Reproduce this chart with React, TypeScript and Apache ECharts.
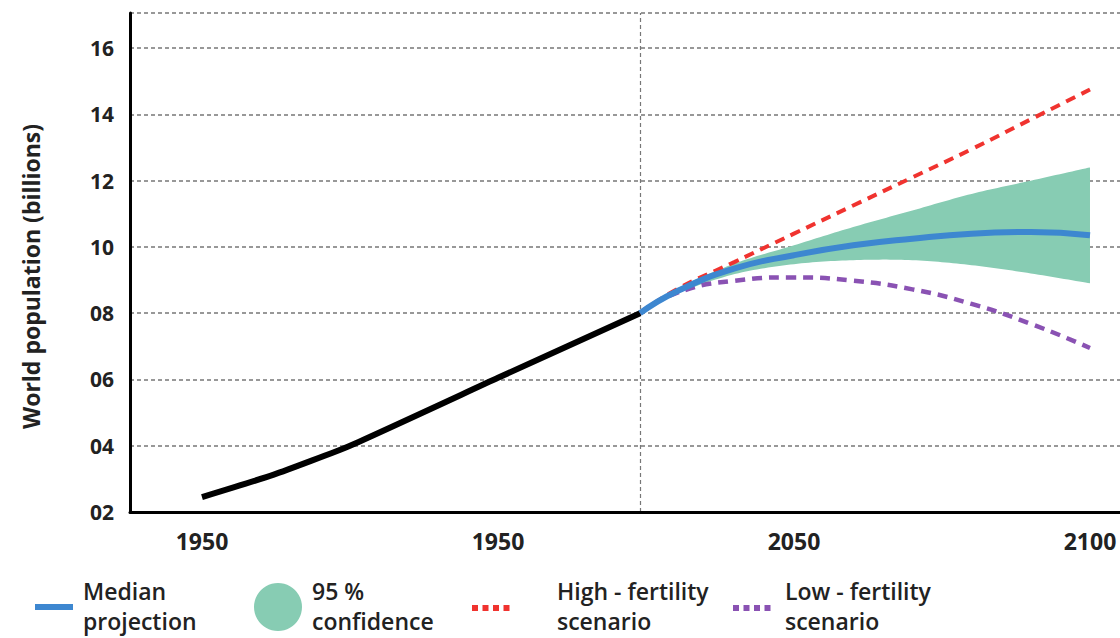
import React, { useEffect, useRef } from "react";
import * as echarts from "echarts";

// Historical population (billions)
const histYears = [1950, 1962, 1975, 2000, 2024];
const histValues = [2.45, 3.12, 4.0, 6.05, 8.0];

// Projection years
const projYears = [2024, 2030, 2040, 2050, 2060, 2070, 2080, 2090, 2100];
const medianValues = [8.0, 8.64, 9.35, 9.75, 10.05, 10.25, 10.4, 10.45, 10.35];
const upperValues = [8.0, 8.72, 9.5, 10.05, 10.6, 11.1, 11.6, 12.0, 12.4];
const lowerValues = [8.0, 8.58, 9.18, 9.48, 9.6, 9.6, 9.45, 9.2, 8.9];
const highValues = [8.0, 8.7, 9.55, 10.4, 11.25, 12.1, 12.95, 13.85, 14.75];
const lowValues = [8.0, 8.6, 8.98, 9.08, 8.98, 8.72, 8.28, 7.68, 6.95];

// X-axis tick positions and the labels shown for them
const xTickYears = [1950, 2000, 2050, 2100];
const xTickLabels = ["1950", "1950", "2050", "2100"];

const currentYear = 2024;

const FONT = "'Open Sans', 'Noto Sans', sans-serif";

// Catmull-Rom sampling of a pixel polyline, for drawing a smooth band edge
function smoothPts(pts: number[][], steps = 16): number[][] {
  const out: number[][] = [];
  for (let i = 0; i < pts.length - 1; i++) {
    const p0 = pts[i - 1] || pts[i];
    const p1 = pts[i];
    const p2 = pts[i + 1];
    const p3 = pts[i + 2] || pts[i + 1];
    const c1 = [p1[0] + (p2[0] - p0[0]) / 6, p1[1] + (p2[1] - p0[1]) / 6];
    const c2 = [p2[0] - (p3[0] - p1[0]) / 6, p2[1] - (p3[1] - p1[1]) / 6];
    for (let s = 0; s < steps; s++) {
      const t = s / steps;
      const mt = 1 - t;
      const a = mt * mt * mt, b = 3 * mt * mt * t, c = 3 * mt * t * t, d = t * t * t;
      out.push([
        a * p1[0] + b * c1[0] + c * c2[0] + d * p2[0],
        a * p1[1] + b * c1[1] + c * c2[1] + d * p2[1],
      ]);
    }
  }
  out.push(pts[pts.length - 1]);
  return out;
}

export default function App() {
  const ref = useRef<HTMLDivElement>(null);

  useEffect(() => {
    document.body.style.margin = "0";
    if (!ref.current) return;
    const chart = echarts.init(ref.current, null, { renderer: "svg" });

    const pairs = (xs: number[], ys: number[]) => xs.map((x, i) => [x, ys[i]]);

    const legendText = (x: number, text: string) => ({
      type: "text",
      x,
      y: 606,
      style: {
        text,
        font: `600 23px ${FONT}`,
        fill: "#222",
        lineHeight: 30,
        verticalAlign: "middle",
        align: "left",
      },
    });

    const bandData = projYears.map((y, i) => [y, lowerValues[i], upperValues[i]]);

    const option: any = {
      animation: false,
      backgroundColor: "#fff",
      grid: { left: 130, right: 0, top: 13, bottom: 126, containLabel: false },
      xAxis: {
        type: "value",
        min: 1937.84,
        max: 2105.07,
        axisLine: { show: true, lineStyle: { color: "#000", width: 3 } },
        axisTick: { show: false },
        splitLine: { show: false },
        axisLabel: {
          customValues: xTickYears,
          formatter: (v: number) => {
            const i = xTickYears.indexOf(Math.round(v));
            return i >= 0 ? xTickLabels[i] : "";
          },
          color: "#222",
          fontFamily: FONT,
          fontWeight: "bold",
          fontSize: 23,
          margin: 17,
        },
      },
      yAxis: {
        type: "value",
        min: 2,
        max: 17.06,
        interval: 2,
        name: "World population (billions)",
        nameLocation: "middle",
        nameGap: 88,
        nameTextStyle: {
          color: "#222",
          fontFamily: FONT,
          fontWeight: "bold",
          fontSize: 23,
          padding: [0, 28, 0, 0],
        },
        axisLine: { show: true, lineStyle: { color: "#000", width: 3 } },
        axisTick: { show: false },
        splitLine: {
          show: true,
          lineStyle: { color: "#777", width: 1.5, type: [4, 3] },
        },
        axisLabel: {
          showMaxLabel: false,
          formatter: (v: number) => (v < 10 ? "0" + v : String(v)),
          color: "#222",
          fontFamily: FONT,
          fontWeight: "bold",
          fontSize: 21,
          margin: 16,
        },
      },
      series: [
        {
          name: "95 % confidence",
          type: "custom",
          data: bandData,
          z: 1,
          renderItem: (params: any, api: any) => {
            if (params.dataIndex !== 0) return null;
            const up = bandData.map((d) => api.coord([d[0], d[2]]));
            const lo = bandData.map((d) => api.coord([d[0], d[1]]));
            const upS = smoothPts(up);
            const loS = smoothPts(lo).reverse();
            return {
              type: "polygon",
              shape: { points: upS.concat(loS) },
              style: { fill: "#87ccb3" },
            };
          },
        },
        {
          name: "High - fertility scenario",
          type: "line",
          data: pairs(projYears, highValues),
          smooth: true,
          symbol: "none",
          lineStyle: { color: "#f0332f", width: 4, type: [10, 7] },
          z: 3,
        },
        {
          name: "Low - fertility scenario",
          type: "line",
          data: pairs(projYears, lowValues),
          smooth: true,
          symbol: "none",
          lineStyle: { color: "#8a52b3", width: 4.5, type: [10, 7] },
          z: 3,
        },
        {
          name: "History",
          type: "line",
          data: pairs(histYears, histValues),
          smooth: 0.15,
          symbol: "none",
          lineStyle: { color: "#000", width: 6, cap: "butt" },
          z: 4,
          markLine: {
            silent: true,
            symbol: "none",
            label: { show: false },
            lineStyle: { color: "#777", width: 1.2, type: [4, 3] },
            data: [{ xAxis: currentYear }],
            z: 0,
          },
        },
        {
          name: "Median projection",
          type: "line",
          data: pairs(projYears, medianValues),
          smooth: true,
          symbol: "none",
          lineStyle: { color: "#3d87d0", width: 6 },
          z: 5,
        },
      ],
      graphic: [
        {
          type: "line",
          shape: { x1: 35, y1: 607, x2: 73, y2: 607 },
          style: { stroke: "#3d87d0", lineWidth: 6 },
        },
        legendText(83, "Median\nprojection"),
        {
          type: "circle",
          shape: { cx: 278, cy: 607, r: 24 },
          style: { fill: "#87ccb3" },
        },
        legendText(312, "95 %\nconfidence"),
        {
          type: "line",
          shape: { x1: 472, y1: 608, x2: 513, y2: 608 },
          style: { stroke: "#f0332f", lineWidth: 6, lineDash: [6, 4.5] },
        },
        legendText(557, "High - fertility\nscenario"),
        {
          type: "line",
          shape: { x1: 733, y1: 608, x2: 774, y2: 608 },
          style: { stroke: "#8a52b3", lineWidth: 6, lineDash: [6, 4.5] },
        },
        legendText(785, "Low - fertility\nscenario"),
      ],
    };

    chart.setOption(option);
    return () => chart.dispose();
  }, []);

  return <div ref={ref} style={{ width: 1120, height: 638 }} />;
}
